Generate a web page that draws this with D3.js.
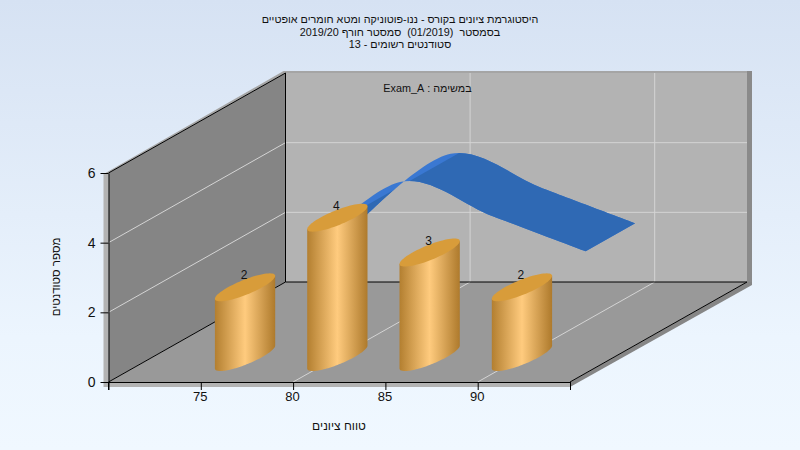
<!DOCTYPE html>
<html>
<head>
<meta charset="utf-8">
<script src="https://cdn.jsdelivr.net/npm/d3@7"></script>
<style>
  html, body { margin: 0; padding: 0; }
  svg { display: block; }
  text { font-family: "Liberation Sans", Arial, sans-serif; fill: #111; white-space: pre; }
</style>
</head>
<body>
<div id="chart"></div>
<script>
// Values
const grades = [75, 80, 85, 90];
const students = [2, 4, 3, 2];
const gradeTicks = [70, 75, 80, 85, 90, 95];
const gradeLabels = [75, 80, 85, 90];
const studentTicks = [0, 2, 4, 6];
const titleLines = [
  "היסטוגרמת ציונים בקורס - ננו-פוטוניקה ומטא חומרים אופטיים",
  "בסמסטר  (01/2019)  סמסטר חורף 2019/20",
  "סטודנטים רשומים - 13"
];
const examLabel = "במשימה : Exam_A";
const xTitle = "טווח ציונים";
const yTitle = "מספר סטודנטים";

const width = 800;
const height = 450;

// Oblique projection: front face plus a depth offset
const depthX = 177;
const depthY = 100;
const xScale = d3.scaleLinear().domain([70, 95]).range([108.5, 570]);
const yScale = d3.scaleLinear().domain([0, 6]).range([382, 173]);
const project = (g, v, z) => [xScale(g) + z * depthX, yScale(v) - z * depthY];
const poly = pts => "M" + pts.map(p => p.join(",")).join("L") + "Z";

const svg = d3.select("#chart").append("svg")
  .attr("width", width)
  .attr("height", height);

const defs = svg.append("defs");

const bg = defs.append("linearGradient").attr("id", "bg")
  .attr("x1", 0).attr("y1", 0).attr("x2", 0).attr("y2", 1);
bg.append("stop").attr("offset", 0).attr("stop-color", "#d6e2f3");
bg.append("stop").attr("offset", 0.75).attr("stop-color", "#ecf5fe");
bg.append("stop").attr("offset", 1).attr("stop-color", "#f0f8ff");

const barFill = defs.append("linearGradient").attr("id", "barFill")
  .attr("x1", 0).attr("y1", 0).attr("x2", 1).attr("y2", 0);
barFill.append("stop").attr("offset", 0).attr("stop-color", "#b37f30");
barFill.append("stop").attr("offset", 0.5).attr("stop-color", "#ffcb7e");
barFill.append("stop").attr("offset", 1).attr("stop-color", "#ae7a2c");

svg.append("rect")
  .attr("width", width)
  .attr("height", height)
  .attr("fill", "url(#bg)");

// Box thickness, drawn first so the walls sit on top of it
const [xMin, xMax] = xScale.domain();
const [yMin, yMax] = yScale.domain();
const thick = 5;
const shift = (p, dx, dy) => [p[0] + dx, p[1] + dy];

svg.append("path")
  .attr("d", poly([
    shift(project(xMin, yMin, 0), -thick, 0), shift(project(xMin, yMax, 0), -thick, 0),
    project(xMin, yMax, 0), shift(project(xMin, yMin, 0), 0, thick)
  ]))
  .attr("fill", "#b3b3b3");
svg.append("path")
  .attr("d", poly([
    shift(project(xMin, yMin, 0), -thick, 0), project(xMax, yMin, 0),
    shift(project(xMax, yMin, 0), 0, thick), shift(project(xMin, yMin, 0), -thick, thick)
  ]))
  .attr("fill", "#b3b3b3");
svg.append("path")
  .attr("d", poly([
    project(xMax, yMin, 0), project(xMax, yMin, 1),
    shift(project(xMax, yMin, 1), thick, 0), shift(project(xMax, yMin, 1), thick, thick - 2),
    shift(project(xMax, yMin, 0), 0, thick)
  ]))
  .attr("fill", "#868686");
svg.append("path")
  .attr("d", poly([
    shift(project(xMax, yMax, 1), 0, -2), shift(project(xMax, yMax, 1), thick, -2),
    shift(project(xMax, yMin, 1), thick, 0), project(xMax, yMin, 1)
  ]))
  .attr("fill", "#8a8a8a");
svg.append("path")
  .attr("d", poly([
    shift(project(xMin, yMax, 0), -3, 0), shift(project(xMin, yMax, 1), -2, -2),
    shift(project(xMax, yMax, 1), 0, -2), project(xMax, yMax, 1),
    project(xMin, yMax, 1), project(xMin, yMax, 0)
  ]))
  .attr("fill", "#a5a5a5");

// Walls and floor
svg.append("path")
  .attr("d", poly([project(xMin, yMin, 0), project(xMin, yMax, 0), project(xMin, yMax, 1), project(xMin, yMin, 1)]))
  .attr("fill", "#858585");
svg.append("path")
  .attr("d", poly([project(xMin, yMin, 1), project(xMin, yMax, 1), project(xMax, yMax, 1), project(xMax, yMin, 1)]))
  .attr("fill", "#b3b3b3");
svg.append("path")
  .attr("d", poly([project(xMin, yMin, 0), project(xMin, yMin, 1), project(xMax, yMin, 1), project(xMax, yMin, 0)]))
  .attr("fill", "#999999");

// Grid lines
const grid = svg.append("g")
  .attr("stroke", "#d4d4d4")
  .attr("stroke-width", 1)
  .attr("fill", "none");

[80, 90].forEach(g => {
  grid.append("path").attr("d", "M" + project(g, yMin, 0) + "L" + project(g, yMin, 1) + "L" + project(g, yMax, 1));
});
[2, 4].forEach(v => {
  grid.append("path").attr("d", "M" + project(xMin, v, 0) + "L" + project(xMin, v, 1) + "L" + project(xMax, v, 1));
});

// Black box edges
const edges = svg.append("g")
  .attr("stroke", "#000")
  .attr("stroke-width", 1)
  .attr("fill", "none");
edges.append("path").attr("d", "M" + project(xMin, yMin, 0) + "L" + project(xMin, yMin, 1) + "L" + project(xMax, yMin, 1) + "L" + project(xMax, yMin, 0));
edges.append("path").attr("d", "M" + project(xMin, yMin, 1) + "L" + project(xMin, yMax, 1) + "L" + project(xMin, yMax, 0));

// Ribbon series, behind the bars
const zFront = 0.61;
const zBack = 0.89;
const ridge = 80.4;
const spline = d3.line().curve(d3.curveCatmullRom.alpha(0));
const frontEdge = grades.map((g, i) => project(g, students[i], zFront));
const backEdge = grades.map((g, i) => project(g, students[i], zBack)).reverse();
const ribbon = spline(frontEdge) + "L" + spline(backEdge).slice(1) + "Z";

const r0 = project(ridge, 4, -0.3);
const r1 = project(ridge, 4, 1.2);
defs.append("clipPath").attr("id", "falling")
  .append("path")
  .attr("d", poly([r0, r1, [width, r1[1]], [width, r0[1]]]));

svg.append("path").attr("d", ribbon).attr("fill", "#3a78d2");
svg.append("path").attr("d", ribbon).attr("fill", "#2f69b4").attr("clip-path", "url(#falling)");

// Cylinders
const zBar = 0.25;
const radGrade = 0.93;
const radDepth = 0.14;
const ringPoint = (g, v, t) => project(g + radGrade * Math.cos(t), v, zBar + radDepth * Math.sin(t));
// angle of the right hand silhouette point
const sideAngle = Math.atan2(radDepth * depthX, radGrade * (xScale(1) - xScale(0)));
const outline = d3.line();

const bars = svg.selectAll(".bar")
  .data(grades.map((g, i) => ({grade: g, count: students[i]})))
  .enter()
  .append("g")
  .attr("class", "bar");

bars.append("path")
  .attr("d", d => {
    const steps = d3.range(0, 61).map(k => sideAngle - Math.PI * k / 60);
    const lower = steps.map(t => ringPoint(d.grade, 0, t));
    return outline([ringPoint(d.grade, d.count, sideAngle), ...lower, ringPoint(d.grade, d.count, sideAngle - Math.PI)]) + "Z";
  })
  .attr("fill", "url(#barFill)");

bars.append("path")
  .attr("d", d => outline(d3.range(0, 72).map(k => ringPoint(d.grade, d.count, 2 * Math.PI * k / 72))) + "Z")
  .attr("fill", "#d89c3a");

bars.append("text")
  .attr("x", d => project(d.grade, d.count, zBar)[0] - 1)
  .attr("y", d => project(d.grade, d.count, zBar)[1] - 8)
  .attr("text-anchor", "middle")
  .attr("font-size", 12)
  .text(d => d.count);

// Axes
const xAxis = d3.axisBottom(xScale)
  .tickValues(gradeTicks)
  .tickSize(8)
  .tickSizeOuter(0)
  .tickFormat(d => gradeLabels.includes(d) ? d : "");
const yAxis = d3.axisLeft(yScale)
  .tickValues(studentTicks)
  .tickSize(8)
  .tickSizeOuter(0)
  .tickFormat(d3.format("d"));

const xG = svg.append("g")
  .attr("transform", "translate(0,382)")
  .call(xAxis);
const yG = svg.append("g")
  .attr("transform", "translate(108.5,0)")
  .call(yAxis);

[xG, yG].forEach(a => {
  a.selectAll("line").attr("stroke", "#000");
  a.select(".domain").attr("stroke", "#000");
  a.selectAll("text").attr("font-family", '"Liberation Sans", Arial, sans-serif').style("fill", "#111");
});
xG.selectAll("text").attr("y", 10).attr("x", -1).attr("font-size", 13);
yG.selectAll("text").attr("x", -13).attr("font-size", 14);
// left axis runs down to the tick under the corner
yG.append("line")
  .attr("x1", 0).attr("x2", 0)
  .attr("y1", yScale(0)).attr("y2", yScale(0) + 8)
  .attr("stroke", "#000");

// Titles
svg.selectAll(".title")
  .data(titleLines)
  .enter()
  .append("text")
  .attr("class", "title")
  .attr("x", 400)
  .attr("y", (d, i) => 23 + i * 12.5)
  .attr("text-anchor", "middle")
  .attr("direction", "rtl")
  .attr("font-size", 10.8)
  .text(d => d);

svg.append("text")
  .attr("x", 427.5)
  .attr("y", 92)
  .attr("text-anchor", "middle")
  .attr("direction", "rtl")
  .attr("font-size", 10.8)
  .text(examLabel);

svg.append("text")
  .attr("x", 339)
  .attr("y", 430)
  .attr("text-anchor", "middle")
  .attr("direction", "rtl")
  .attr("font-size", 12)
  .text(xTitle);

svg.append("text")
  .attr("transform", "translate(60,277) rotate(-90)")
  .attr("text-anchor", "middle")
  .attr("direction", "rtl")
  .attr("font-size", 11.5)
  .text(yTitle);
</script>
</body>
</html>
